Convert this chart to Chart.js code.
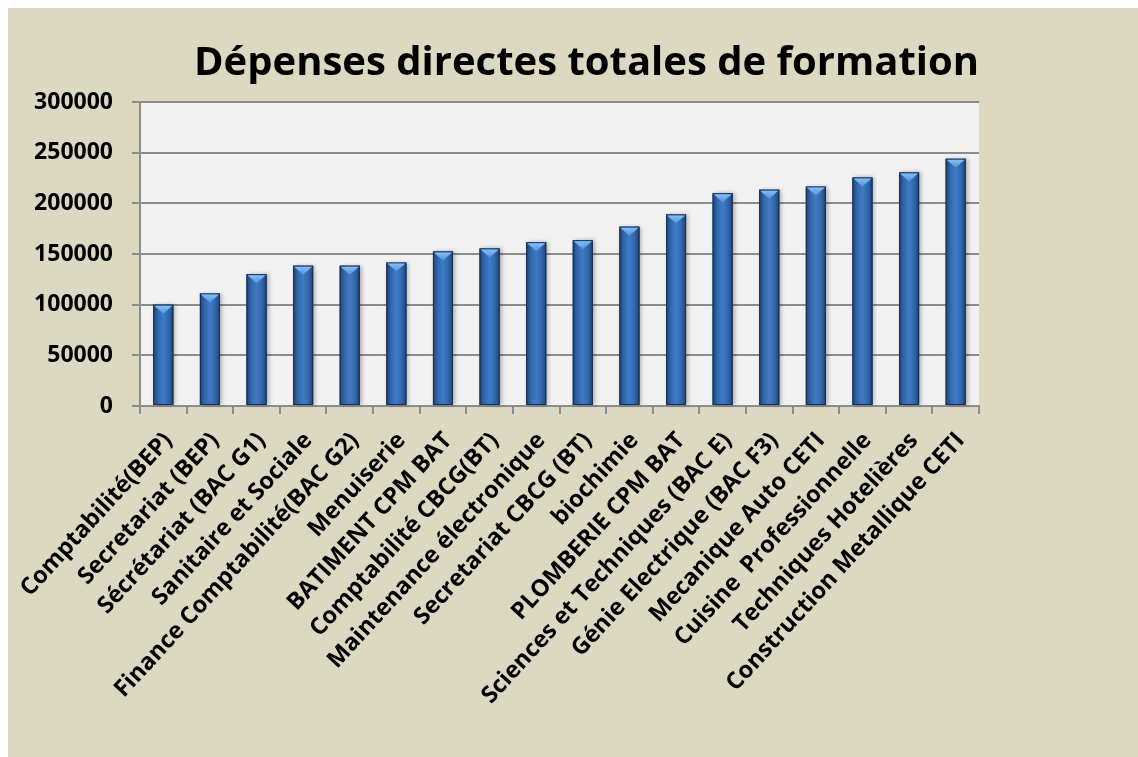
<!DOCTYPE html>
<html>
<head>
<meta charset="utf-8">
<script src="https://cdn.jsdelivr.net/npm/chart.js@4.4.1/dist/chart.umd.min.js"></script>
<style>
  html, body { margin: 0; padding: 0; background: #ffffff; }
  #wrap { position: absolute; left: 8px; top: 8px; width: 1130px; height: 749px; background: #ddd8c2; }
</style>
</head>
<body>
<div id="wrap"><canvas id="mainChart" width="1130" height="749"></canvas></div>
<script>
// Données
var categories = [
  'Comptabilité(BEP)', 'Secretariat (BEP)', 'Sécrétariat (BAC G1)', 'Sanitaire et Sociale',
  'Finance Comptabilité(BAC G2)', 'Menuiserie', 'BATIMENT CPM BAT', 'Comptabilité CBCG(BT)',
  'Maintenance électronique', 'Secretariat CBCG (BT)', 'biochimie', 'PLOMBERIE CPM BAT',
  'Sciences et Techniques (BAC E)', 'Génie Electrique (BAC F3)', 'Mecanique Auto CETI',
  'Cuisine  Professionnelle', 'Techniques Hotelières', 'Construction Metallique CETI'
];
var depenses = [
  100000, 111000, 130000, 138500, 138500, 141500, 152500, 155500,
  161500, 163500, 177000, 189000, 210000, 213500, 216500, 225500, 230500, 244000
];
var yTicks = [0, 50000, 100000, 150000, 200000, 250000, 300000];

var FONT = "'Open Sans', 'DejaVu Sans', sans-serif";
var GRID = '#8c8c8c';

// fond de la zone de tracé + barres ombrées avec le chevron clair en haut
var barLook = {
  id: 'barLook',
  beforeDraw: function(chart) {
    var a = chart.chartArea, c = chart.ctx;
    c.save();
    c.fillStyle = '#f2f2f2';
    c.fillRect(a.left, a.top, a.right - a.left, a.bottom - a.top);
    c.restore();
  },
  afterDatasetsDraw: function(chart) {
    var c = chart.ctx;
    chart.getDatasetMeta(0).data.forEach(function(el) {
      var p = el.getProps(['x', 'y', 'base', 'width'], true);
      var l = p.x - p.width / 2, r = p.x + p.width / 2, t = p.y, b = p.base;
      c.save();
      c.shadowColor = 'rgba(0,0,0,0.28)';
      c.shadowBlur = 4;
      c.shadowOffsetX = 2;
      c.shadowOffsetY = 0;
      var g = c.createLinearGradient(l, 0, r, 0);
      g.addColorStop(0, '#1e4475');
      g.addColorStop(0.25, '#3468ad');
      g.addColorStop(0.5, '#3d7bc9');
      g.addColorStop(0.75, '#3468ad');
      g.addColorStop(1, '#1e4475');
      c.fillStyle = g;
      c.fillRect(l, t, r - l, b - t);
      c.restore();

      c.save();
      c.strokeStyle = '#172f52';
      c.lineWidth = 1;
      c.strokeRect(l + 0.5, t + 0.5, r - l - 1, b - t - 1);
      var h = c.createLinearGradient(0, t, 0, t + 9);
      h.addColorStop(0, '#8cc4f7');
      h.addColorStop(1, '#4f93dc');
      c.fillStyle = h;
      c.beginPath();
      c.moveTo(l + 1, t + 1);
      c.lineTo(r - 1, t + 1);
      c.lineTo(p.x, t + 9);
      c.closePath();
      c.fill();
      c.restore();
    });
  }
};

new Chart(document.getElementById('mainChart').getContext('2d'), {
  type: 'bar',
  data: {
    labels: categories,
    datasets: [{
      label: 'Dépenses',
      data: depenses,
      backgroundColor: '#3468ad',
      borderWidth: 0,
      categoryPercentage: 1,
      barPercentage: 0.43
    }]
  },
  options: {
    responsive: false,
    animation: false,
    layout: { padding: { top: 10, left: 0, right: 159, bottom: 0 } },
    plugins: {
      legend: { display: false },
      tooltip: { enabled: false },
      title: {
        display: true,
        align: 'end',
        text: 'Dépenses directes totales de formation',
        color: '#000000',
        font: { family: FONT, size: 40, weight: 'bold' },
        padding: { top: 22, bottom: 14 }
      }
    },
    scales: {
      x: {
        border: { color: GRID, width: 2 },
        grid: { offset: true, drawOnChartArea: false, drawTicks: true, tickLength: 8, color: GRID, lineWidth: 2 },
        ticks: {
          color: '#000000',
          font: { family: FONT, size: 23.5, weight: 'bold' },
          maxRotation: 47.5, minRotation: 47.5, autoSkip: false, padding: 13, labelOffset: 5
        },
        afterFit: function(s) {
          s.height = 351;
          s.paddingLeft = 0;
          s.paddingRight = 0;
        }
      },
      y: {
        min: 0, max: 300000,
        border: { color: GRID, width: 2 },
        grid: { color: GRID, lineWidth: 2, tickLength: 8 },
        afterBuildTicks: function(s) { s.ticks = yTicks.map(function(v) { return { value: v }; }); },
        ticks: {
          color: '#000000',
          padding: 19,
          font: { family: FONT, size: 23, weight: 'bold' },
          callback: function(v) { return String(v); }
        },
        afterFit: function(s) { s.width = 132; }
      }
    }
  },
  plugins: [barLook]
});
</script>
</body>
</html>
